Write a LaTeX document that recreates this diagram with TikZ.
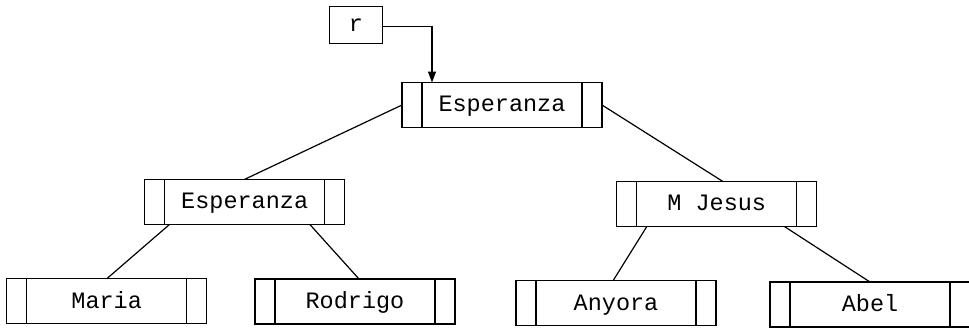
\documentclass[tikz,border=0pt]{standalone}
\usepackage{fontspec}
\setmonofont{Liberation Mono}
\usetikzlibrary{arrows.meta}
\begin{document}
\begin{tikzpicture}[x=1pt,y=-1pt,
  every node/.style={font=\ttfamily\fontsize{23.5}{28}\selectfont,
    text height=13.4pt, text depth=0pt, inner sep=0pt, outer sep=0pt},
  link/.style={line width=1.2pt},
  ptr/.style={draw, line width=1.2pt, minimum width=53pt, minimum height=36.6pt},
  rec/.style={draw, line width=1.2pt, minimum width=200pt, minimum height=45pt,
    path picture={
      \draw[line width=1.2pt]
        ([xshift=20pt]path picture bounding box.north west) --
        ([xshift=20pt]path picture bounding box.south west)
        ([xshift=-20pt]path picture bounding box.north east) --
        ([xshift=-20pt]path picture bounding box.south east);
    }}]
  \fill[white] (0,0) rectangle (969,327);
  \useasboundingbox (0,0) rectangle (969,327);

  % pointer to the root
  \node[ptr] (r) at (355.8,25) {r};

  % tree records
  \node[rec] (root)    at (502,105)     {Esperanza};
  \node[rec] (left)    at (244.7,201.8) {Esperanza};
  \node[rec] (right)   at (716.7,204.2) {M Jesus};
  \node[rec] (maria)   at (106.7,301.3) {Maria};
  \node[rec] (rodrigo) at (355,301.5)   {Rodrigo};
  \node[rec] (anyora)  at (616,303.3)   {Anyora};
  \node[rec] (abel)    at (870,304.5)   {Abel};

  % root pointer
  \draw[link, -{Triangle[length=11pt,width=8pt]}]
    ([yshift=-1.7pt]r.east) -| ([xshift=30pt]root.north west);

  % child links
  \draw[link] (root.west) -- (left.north);
  \draw[link] (root.east) -- ([xshift=6.5pt]right.north);
  \draw[link] ([xshift=-75pt]left.south) -- (maria.north);
  \draw[link] ([xshift=65pt]left.south) -- ([xshift=4pt]rodrigo.north);
  \draw[link] ([xshift=-70pt]right.south) -- ([xshift=-3pt]anyora.north);
  \draw[link] ([xshift=68pt]right.south) -- (abel.north);
\end{tikzpicture}
\end{document}
